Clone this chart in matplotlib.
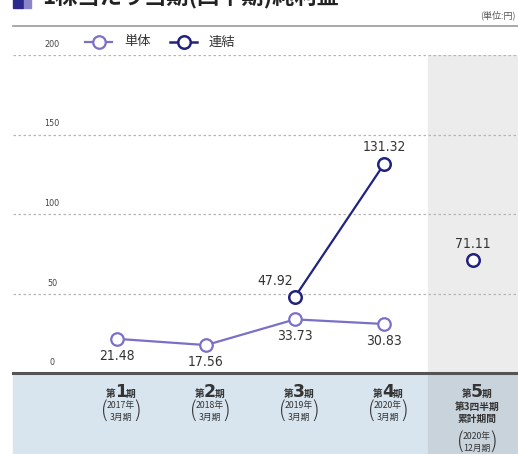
import matplotlib.pyplot as plt
from matplotlib.patches import Rectangle

plt.rcParams['font.family'] = ['Noto Sans CJK JP', 'DejaVu Sans']

# values (円)
periods = [0, 1, 2, 3, 4]
tantai_x = [0, 1, 2, 3]
tantai = [21.48, 17.56, 33.73, 30.83]
renketsu_x = [2, 3]
renketsu = [47.92, 131.32]
q3_x = [4]
q3_val = [71.11]

period_nums = ['1', '2', '3', '4', '5']
period_years = ['2017年', '2018年', '2019年', '2020年', '2020年']
period_months = ['3月期', '3月期', '3月期', '3月期', '12月期']
yticks = [0, 50, 100, 150, 200]

navy = '#22227f'
purple = '#7a70c8'
num_font = ['DejaVu Sans']

W, H = 518, 454
fig = plt.figure(figsize=(W / 100, H / 100), dpi=100)

def fx(px):
    return px / W

def fy(py):
    return 1 - py / H

# bottom band (behind the axes)
fig.patches.append(Rectangle((fx(13), 0), 1 - fx(13), fy(375), color='#d8e5ee',
                             transform=fig.transFigure, figure=fig, zorder=-2))
fig.patches.append(Rectangle((fx(428), 0), 1 - fx(428), fy(375), color='#c8d3dc',
                             transform=fig.transFigure, figure=fig, zorder=-2))

# axes: x from 13 px to right edge, y 0 at 373 px, 200 at 55 px
ax = fig.add_axes([fx(13), fy(373), 1 - fx(13), fy(55) - fy(373)])
ax.set_xlim(-1.169, 4.506)
ax.set_ylim(0, 200)
ax.axis('off')

# shaded column for the 5th period
ax.add_patch(Rectangle((3.5, 0), 1.1, 200, color='#ececec', zorder=0))

for v in yticks[1:]:
    ax.axhline(v, color='#b5b5b5', lw=0.9, ls=(0, (2, 2)), zorder=1)

# y tick labels sit a little above the lines
for v in yticks:
    ax.annotate(str(v), xy=(0, v), xycoords=('axes fraction', 'data'),
                xytext=(39 * 0.72, 6 * 0.72), textcoords='offset points',
                ha='center', va='bottom', fontsize=6.5, color='#444444',
                family=num_font, fontstretch='condensed', annotation_clip=False)

ax.plot(tantai_x, tantai, color=purple, lw=1.6, marker='o', ms=9,
        mfc='white', mec=purple, mew=1.6, zorder=3, clip_on=False)
ax.plot(renketsu_x, renketsu, color=navy, lw=1.6, marker='o', ms=9,
        mfc='white', mec=navy, mew=1.8, zorder=4, clip_on=False)
ax.plot(q3_x, q3_val, ls='none', marker='o', ms=9,
        mfc='white', mec=navy, mew=1.8, zorder=4, clip_on=False)

def label(x, y, txt, dx, dy):
    ax.annotate(txt, xy=(x, y), xytext=(dx * 0.72, dy * 0.72),
                textcoords='offset points', ha='center', va='center',
                fontsize=10, color='#333333', family=num_font,
                fontstretch='condensed', annotation_clip=False)

for x, y in zip(tantai_x, tantai):
    label(x, y, f'{y:.2f}', 0, -17)
label(renketsu_x[0], renketsu[0], f'{renketsu[0]:.2f}', -20, 16)
label(renketsu_x[1], renketsu[1], f'{renketsu[1]:.2f}', 0, 17)
label(q3_x[0], q3_val[0], f'{q3_val[0]:.2f}', 0, 16)

ax.axhline(0, color='#555555', lw=2.2, zorder=5, clip_on=False)

# period labels (offsets in pixels from the category position on the axis line)
def plab(x, txt, dx, dy, size, ha='center', va='center', weight='bold', family=None):
    ax.annotate(txt, xy=(x, 0), xytext=((dx + 4) * 0.72, dy * 0.72),
                textcoords='offset points', ha=ha, va=va,
                fontsize=size, color='#333333', fontweight=weight,
                family=family, annotation_clip=False)

for i, x in enumerate(periods):
    plab(x, period_nums[i], 0, -24, 12.5, va='baseline', family=num_font)
    plab(x, '第', -5, -24, 7, ha='right', va='baseline')
    plab(x, '期', 5, -24, 7, ha='left', va='baseline')
    if i < 4:
        base = -33
    else:
        plab(x, '第3四半期', 0, -34, 7)
        plab(x, '累計期間', 0, -46, 7)
        base = -63.5
    plab(x, period_years[i], 0, base, 6.3, weight='normal')
    plab(x, period_months[i], 0, base - 11.5, 6.3, weight='normal')
    plab(x, '(', -17, base - 6, 15, weight='light')
    plab(x, ')', 17, base - 6, 15, weight='light')

# legend
fig.add_artist(plt.Line2D([fx(85), fx(112)], [fy(42), fy(42)], color=purple, lw=1.6))
fig.add_artist(plt.Line2D([fx(98.5)], [fy(42)], color=purple, marker='o', ms=9,
                          mfc='white', mec=purple, mew=1.6, ls='none'))
fig.text(fx(124), fy(42), '単体', fontsize=9.5, va='center', color='#333333')
fig.add_artist(plt.Line2D([fx(170), fx(197)], [fy(42), fy(42)], color=navy, lw=1.8))
fig.add_artist(plt.Line2D([fx(183.5)], [fy(42)], color=navy, marker='o', ms=9,
                          mfc='white', mec=navy, mew=1.8, ls='none'))
fig.text(fx(209), fy(42), '連結', fontsize=9.5, va='center', color='#333333')

# header (title is cut off at the top of the image, as in the source)
fig.add_artist(Rectangle((fx(13), fy(8)), fx(10), fy(0) - fy(8) + 0.02, color='#2a2a8c',
                         transform=fig.transFigure))
fig.add_artist(Rectangle((fx(24), fy(8)), fx(7), fy(0) - fy(8) + 0.02, color='#8a86c8',
                         transform=fig.transFigure))
fig.text(fx(42), fy(9), '1株当たり当期(四半期)純利益', fontsize=16, fontweight='bold',
         va='bottom', color='#222222')
fig.text(fx(516), fy(15), '(単位:円)', fontsize=6.5, ha='right', va='center',
         color='#555555')
fig.add_artist(plt.Line2D([fx(13), 1], [fy(26), fy(26)], color='#9a9a9a', lw=1.2))

fig.savefig('out.png', dpi=100)
